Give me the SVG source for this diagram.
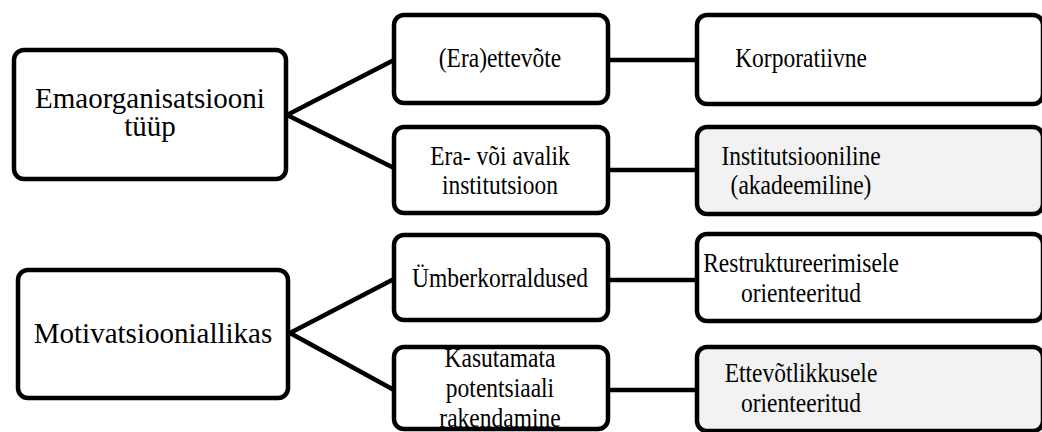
<svg xmlns="http://www.w3.org/2000/svg" width="1042" height="432" viewBox="0 0 1042 432">
  <style>
    .box { fill: #ffffff; stroke: #000000; stroke-width: 4.5; }
    .shade { fill: #f2f2f2; }
    .link { stroke: #000000; stroke-width: 4.5; fill: none; }
    .lbl { fill: #000000; text-anchor: middle; }
    .big { font-size: 29px; }
    .mid { font-size: 23.5px; }
  </style>

  <!-- connectors -->
  <g id="connectors">
    <line class="link" x1="287" y1="115" x2="394" y2="60"/>
    <line class="link" x1="287" y1="115" x2="394" y2="168"/>
    <line class="link" x1="608" y1="60" x2="697" y2="60"/>
    <line class="link" x1="608" y1="170" x2="697" y2="170"/>
    <line class="link" x1="290" y1="333" x2="394" y2="279"/>
    <line class="link" x1="290" y1="333" x2="394" y2="390"/>
    <line class="link" x1="608" y1="280" x2="697" y2="280"/>
    <line class="link" x1="608" y1="390" x2="697" y2="390"/>
  </g>

  <!-- labels in the two right columns are drawn tall and narrow (scale 1 × 1.18) -->
  <g class="lbl" font-family="'Liberation Serif', Tinos, 'Times New Roman', 'DejaVu Serif', serif">
    <!-- first group: parent organisation type -->
    <g id="node-emaorganisatsioon">
      <rect class="box" x="14" y="50" width="272" height="129" rx="10"/>
      <text class="big" x="150" y="108">Emaorganisatsiooni</text>
      <text class="big" x="150" y="136">tüüp</text>
    </g>
    <g id="node-ettevote">
      <rect class="box" x="394" y="15" width="214" height="88" rx="10"/>
      <text class="mid" transform="translate(500 67) scale(1 1.18)">(Era)ettevõte</text>
    </g>
    <g id="node-institutsioon">
      <rect class="box" x="394" y="127" width="214" height="86" rx="10"/>
      <text class="mid" transform="translate(500 165) scale(1 1.18)">Era- või avalik</text>
      <text class="mid" transform="translate(500 194) scale(1 1.18)">institutsioon</text>
    </g>
    <g id="node-korporatiivne">
      <rect class="box" x="697" y="15" width="346" height="89" rx="10"/>
      <text class="mid" transform="translate(801 67) scale(1 1.18)">Korporatiivne</text>
    </g>
    <g id="node-institutsiooniline">
      <rect class="box shade" x="697" y="127" width="346" height="87" rx="10"/>
      <text class="mid" transform="translate(801 165) scale(1 1.18)">Institutsiooniline</text>
      <text class="mid" transform="translate(801 194) scale(1 1.18)">(akadeemiline)</text>
    </g>

    <!-- second group: source of motivation -->
    <g id="node-motivatsioon">
      <rect class="box" x="18" y="270" width="270" height="128" rx="10"/>
      <text class="big" x="153" y="343">Motivatsiooniallikas</text>
    </g>
    <g id="node-umberkorraldused">
      <rect class="box" x="394" y="235" width="214" height="85" rx="10"/>
      <text class="mid" transform="translate(500 287) scale(1 1.18)">Ümberkorraldused</text>
    </g>
    <g id="node-kasutamata">
      <rect class="box" x="394" y="347" width="214" height="82" rx="10"/>
      <text class="mid" transform="translate(500 367) scale(1 1.18)">Kasutamata</text>
      <text class="mid" transform="translate(500 397) scale(1 1.18)">potentsiaali</text>
      <text class="mid" transform="translate(500 427) scale(1 1.18)">rakendamine</text>
    </g>
    <g id="node-restruktureerimine">
      <rect class="box" x="697" y="234" width="346" height="87" rx="10"/>
      <text class="mid" transform="translate(801 272) scale(1 1.18)">Restruktureerimisele</text>
      <text class="mid" transform="translate(801 302) scale(1 1.18)">orienteeritud</text>
    </g>
    <g id="node-ettevotlikkus">
      <rect class="box shade" x="697" y="347" width="346" height="84" rx="10"/>
      <text class="mid" transform="translate(801 382) scale(1 1.18)">Ettevõtlikkusele</text>
      <text class="mid" transform="translate(801 412) scale(1 1.18)">orienteeritud</text>
    </g>
  </g>
</svg>
